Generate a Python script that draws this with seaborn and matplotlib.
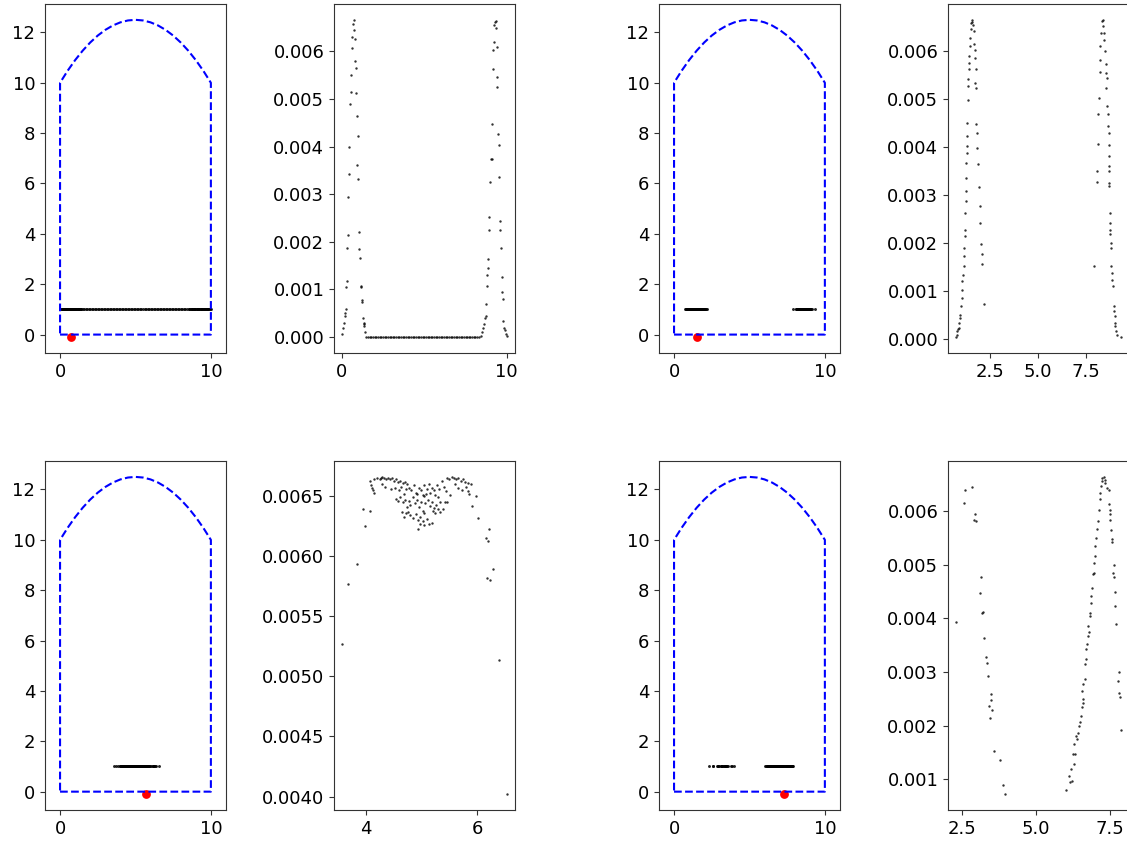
import numpy as np
import pandas as pd
import matplotlib
matplotlib.use('Agg')
import matplotlib.pyplot as plt
import seaborn as sns

# room outline (floor, walls, arched roof)
wall_x = [0, 10, 10, 9.5, 9, 8.5, 8, 7.5, 7, 6.5, 6, 5.5, 5, 4.5, 4, 3.5, 3, 2.5, 2, 1.5, 1, 0.5, 0, 0]
wall_y = [0, 0, 10, 10.475, 10.9, 11.275, 11.6, 11.875, 12.1, 12.275, 12.4, 12.475, 12.5,
          12.475, 12.4, 12.275, 12.1, 11.875, 11.6, 11.275, 10.9, 10.475, 10, 0]

robot_x = [0.71, 1.51, 5.70, 7.32]
robot_y = -0.1
particle_y = 1.0

# step 1: uniform particles, two peaks of weight
p1_x = [0.04, 0.10, 0.16, 0.20, 0.21, 0.24, 0.26, 0.30, 0.32, 0.39, 0.37, 0.45, 0.46, 0.51, 0.57,
        0.55, 0.63, 0.65, 0.67, 0.73, 0.75, 0.79, 0.80, 0.85, 0.86, 0.91, 0.97, 0.95, 1.01, 1.03,
        1.07, 1.10, 1.16, 1.18, 1.22, 1.26, 1.28, 1.34, 1.38, 1.36, 1.42,
        1.5, 1.6, 1.7, 1.8, 1.9, 2.0, 2.1, 2.2, 2.3, 2.4, 2.5, 2.6, 2.7, 2.8, 2.9, 3.0, 3.1, 3.2,
        3.3, 3.4, 3.5, 3.6, 3.7, 3.8, 3.9, 4.0, 4.1, 4.2, 4.3, 4.4, 4.5, 4.6, 4.7, 4.8, 4.9, 5.0,
        5.1, 5.2, 5.3, 5.4, 5.5, 5.6, 5.7, 5.8, 5.9, 6.0, 6.1, 6.2, 6.3, 6.4, 6.5, 6.6, 6.7, 6.8,
        6.9, 7.0, 7.1, 7.2, 7.3, 7.4, 7.5, 7.6, 7.7, 7.8, 7.9, 8.0, 8.1, 8.2, 8.3,
        8.42, 8.52, 8.58, 8.62, 8.68, 8.72, 8.73, 8.78, 8.79, 8.86, 8.87, 8.93, 8.94, 8.97, 9.05,
        9.09, 9.10, 9.15, 9.16, 9.21, 9.23, 9.29, 9.33, 9.34, 9.39, 9.41, 9.42, 9.49, 9.55, 9.53,
        9.59, 9.60, 9.65, 9.71, 9.72, 9.78, 9.76, 9.84, 9.90, 9.94, 10.0]
p1_w = ([0.00007, 0.0002, 0.0003, 0.00045, 0.0005, 0.0006, 0.00105, 0.00117, 0.00188, 0.00214,
         0.00294, 0.00343, 0.00399, 0.0049, 0.00514, 0.00551, 0.00607, 0.0063, 0.00657, 0.00666,
         0.00644, 0.00625, 0.0058, 0.00564, 0.00512, 0.00464, 0.00422, 0.00361, 0.00331, 0.0022,
         0.00184, 0.00165, 0.00108, 0.00106, 0.00077, 0.00074, 0.0004, 0.0003, 0.00023, 0.00027,
         0.0001]
        + [0.0] * 69
        + [0.00002, 0.0001, 0.0002, 0.00027, 0.0004, 0.00044, 0.0007, 0.00107, 0.00131, 0.00145,
           0.00164, 0.00225, 0.00253, 0.00325, 0.00374, 0.00374, 0.00447, 0.00563, 0.00602, 0.0062,
           0.00655, 0.00662, 0.00664, 0.00648, 0.00609, 0.00545, 0.00525, 0.00426, 0.00403, 0.00337,
           0.00243, 0.00225, 0.00188, 0.00127, 0.00095, 0.00079, 0.00033, 0.0002, 0.00014, 0.00007,
           0.00002])

# step 2: two clusters
p2_x = [0.75, 0.77, 0.79, 0.84, 0.89, 0.90, 0.93, 0.96, 1.02, 1.03, 1.05, 1.07, 1.10, 1.14, 1.16,
        1.17, 1.19, 1.21, 1.23, 1.24, 1.25, 1.26, 1.28, 1.29, 1.30, 1.31, 1.33, 1.34, 1.37, 1.38,
        1.40, 1.42, 1.44, 1.45, 1.47, 1.50, 1.54, 1.58, 1.59, 1.63, 1.66, 1.68, 1.71, 1.72, 1.77,
        1.73, 1.78, 1.80, 1.84, 1.85, 1.89, 1.94, 1.98, 1.99, 2.06, 2.07, 2.10, 2.19,
        7.91, 8.08, 8.09, 8.12, 8.14, 8.17, 8.22, 8.23, 8.26, 8.29, 8.35, 8.38, 8.40, 8.43, 8.47,
        8.52, 8.56, 8.57, 8.61, 8.55, 8.62, 8.64, 8.66, 8.70, 8.71, 8.72, 8.73, 8.74, 8.71, 8.73,
        8.75, 8.77, 8.78, 8.79, 8.80, 8.82, 8.83, 8.85, 8.89, 8.92, 8.96, 8.99, 9.01, 9.02, 9.04,
        9.08, 9.13, 9.33]
p2_w = [0.00003, 0.00008, 0.00015, 0.00019, 0.00022, 0.00033, 0.00043, 0.0005, 0.00067, 0.00085,
        0.00102, 0.00119, 0.00133, 0.00151, 0.00172, 0.00189, 0.00213, 0.00227, 0.00262, 0.00286,
        0.00307, 0.00335, 0.00366, 0.00387, 0.00401, 0.00422, 0.00449, 0.00498, 0.00526, 0.0054,
        0.00561, 0.00575, 0.00588, 0.00609, 0.00626, 0.00644, 0.00658, 0.00664, 0.0066, 0.00654,
        0.00641, 0.00613, 0.00602, 0.00585, 0.00561, 0.00533, 0.00523, 0.00447, 0.00429, 0.00398,
        0.00363, 0.00315, 0.00276, 0.00241, 0.00197, 0.00176, 0.00155, 0.00071,
        0.00151, 0.00326, 0.00349, 0.00406, 0.00467, 0.00501, 0.00581, 0.00555, 0.00609, 0.00637,
        0.00661, 0.00663, 0.00651, 0.00637, 0.00623, 0.00599, 0.00571, 0.00553, 0.00543, 0.00522,
        0.00484, 0.00467, 0.00442, 0.00428, 0.00404, 0.0038, 0.00359, 0.00349, 0.00324, 0.00317,
        0.00262, 0.00241, 0.00227, 0.00217, 0.00199, 0.00189, 0.00151, 0.00137, 0.00123, 0.00109,
        0.00067, 0.00057, 0.00047, 0.00033, 0.00026, 0.00015, 0.00008, 0.00003]

# step 3: one cluster around the robot
p3_x = [3.58, 3.69, 3.85, 3.96, 3.99, 4.07, 4.10, 4.13,
        4.07, 4.14, 4.21, 4.25, 4.27, 4.29, 4.32, 4.36, 4.40, 4.43, 4.47, 4.50, 4.54, 4.58, 4.62,
        4.66, 4.70, 4.74, 5.36, 5.45, 5.50, 5.55, 5.58, 5.62, 5.66, 5.70, 5.74, 5.78, 5.83, 5.88,
        4.12, 4.15, 4.30, 4.35, 4.45, 4.52, 4.60, 4.64, 4.68, 4.72, 4.78, 4.82, 4.86, 4.90, 4.95,
        5.00, 5.05, 5.10, 5.14, 5.18, 5.22, 5.27, 5.32, 5.40, 5.44, 5.52, 5.60, 5.65, 5.72, 5.80,
        5.86, 5.84,
        4.55, 4.58, 4.62, 4.66, 4.70, 4.74, 4.77, 4.80, 4.84, 4.88, 4.92, 4.96, 5.00, 5.04, 5.07,
        5.11, 5.15, 5.19, 5.23, 5.26, 5.30, 5.34, 5.38, 5.42, 5.46, 4.92, 5.02, 5.08, 5.16, 5.25,
        4.65, 4.68, 4.72, 4.76, 4.80, 4.85, 4.90, 4.94, 4.98, 5.02, 5.05, 5.10, 5.14, 5.20, 5.24,
        5.29, 5.33, 4.94, 5.05, 5.18, 4.97, 5.03,
        5.90, 5.98, 6.02, 6.16, 6.19, 6.21, 6.17, 6.22, 6.29, 6.39, 6.53]
p3_w = [0.005272, 0.005767, 0.005937, 0.00639, 0.006255, 0.006374, 0.00659, 0.00655,
        0.006625, 0.00664, 0.00665, 0.00664, 0.00665, 0.00666, 0.00665, 0.00664, 0.00665, 0.00664,
        0.00665, 0.00663, 0.00664, 0.00662, 0.00663, 0.00661, 0.00662, 0.0066, 0.00663, 0.00665,
        0.00664, 0.00666, 0.00665, 0.00664, 0.00665, 0.00663, 0.00664, 0.00662, 0.00661, 0.0066,
        0.00657, 0.00653, 0.0066, 0.00658, 0.00656, 0.00657, 0.00655, 0.00658, 0.00652, 0.00656,
        0.00657, 0.00655, 0.00659, 0.00653, 0.00657, 0.00655, 0.00659, 0.00656, 0.0066, 0.00657,
        0.00655, 0.00659, 0.00656, 0.00658, 0.00654, 0.00651, 0.0066, 0.00657, 0.00655, 0.00658,
        0.00652, 0.00654,
        0.00648, 0.00646, 0.00649, 0.00645, 0.00647, 0.00641, 0.00646, 0.00643, 0.00649, 0.00644,
        0.00647, 0.00641, 0.00645, 0.0065, 0.00644, 0.00647, 0.00642, 0.00645, 0.0064, 0.00643,
        0.00649, 0.00645, 0.00639, 0.00645, 0.00645, 0.00652, 0.00651, 0.00652, 0.00653, 0.00651,
        0.00637, 0.00633, 0.00636, 0.00637, 0.00634, 0.00632, 0.00635, 0.0063, 0.00633, 0.00629,
        0.00636, 0.00631, 0.00627, 0.00638, 0.00636, 0.00639, 0.00637, 0.00623, 0.00626, 0.00628,
        0.00627, 0.00638,
        0.00642, 0.0065, 0.00632, 0.00615, 0.00613, 0.00623, 0.00582, 0.0058, 0.00589, 0.005135,
        0.00402]

# step 4: main cluster plus a ghost cluster
p4_x = [2.29, 2.55, 2.58, 2.83, 2.92, 2.89, 2.96, 3.13, 3.09, 3.21, 3.18, 3.23, 3.30, 3.35, 3.36,
        3.47, 3.46, 3.41, 3.49, 3.42, 3.58, 3.78, 3.87, 3.95,
        6.03, 6.11, 6.17, 6.22, 6.19, 6.28, 6.26, 6.34, 6.30, 6.37, 6.42, 6.39, 6.45, 6.51, 6.53,
        6.57, 6.58, 6.60, 6.56, 6.61, 6.65, 6.68, 6.71, 6.69, 6.74, 6.77, 6.81, 6.76, 6.83, 6.85,
        6.87, 6.88, 6.91, 6.92, 6.96, 6.97, 6.99, 7.02, 7.04, 7.08, 7.10, 7.14, 7.16, 7.19, 7.20,
        7.23, 7.25, 7.30, 7.33, 7.36, 7.42, 7.47,
        7.47, 7.50, 7.51, 7.52, 7.56, 7.59, 7.57, 7.65, 7.63, 7.66, 7.68, 7.69, 7.71, 7.82, 7.79,
        7.83, 7.84, 7.88]
p4_w = [0.003938, 0.006155, 0.006391, 0.006447, 0.005957, 0.005845, 0.005814, 0.00477, 0.004478,
        0.004124, 0.004093, 0.003634, 0.00328, 0.003174, 0.002925, 0.002596, 0.002472, 0.002366,
        0.002286, 0.002137, 0.001528, 0.001354, 0.000888, 0.00072,
        0.000795, 0.001062, 0.00095, 0.00097, 0.00119, 0.00128, 0.00147, 0.00147, 0.00165, 0.00181,
        0.00187, 0.00175, 0.002, 0.00206, 0.00218, 0.00234, 0.00249, 0.00243, 0.00265, 0.00277,
        0.00286, 0.00314, 0.00324, 0.00342, 0.00352, 0.00367, 0.00375, 0.00386, 0.00404, 0.0041,
        0.00429, 0.00442, 0.00457, 0.00482, 0.00485, 0.00504, 0.00516, 0.00535, 0.0055, 0.00566,
        0.00581, 0.00603, 0.00622, 0.00634, 0.00647, 0.00656, 0.00662, 0.00664, 0.00659, 0.00653,
        0.00643, 0.0064,
        0.00614, 0.00603, 0.00594, 0.00584, 0.00565, 0.00548, 0.00542, 0.00499, 0.00485, 0.00477,
        0.0045, 0.00423, 0.00389, 0.003, 0.00284, 0.00261, 0.00254, 0.00191]

steps = [(p1_x, p1_w), (p2_x, p2_w), (p3_x, p3_w), (p4_x, p4_w)]

sns.set_style("ticks")
plt.rcParams['font.family'] = ['DejaVu Sans']
plt.rcParams['font.size'] = 13
plt.rcParams['axes.edgecolor'] = '#333333'
plt.rcParams['xtick.color'] = '#333333'
plt.rcParams['ytick.color'] = '#333333'
plt.rcParams['xtick.labelcolor'] = 'black'
plt.rcParams['ytick.labelcolor'] = 'black'

fig = plt.figure(figsize=(11.27, 8.43), dpi=100)

lefts = [0.0399, 0.2964, 0.5847, 0.8412]
bottoms = [0.5813, 0.0391]
w_ax, h_ax = 0.1606, 0.414

x_ticks = [[0, 10], [2.5, 5.0, 7.5], [4, 6], [2.5, 5.0, 7.5]]
w_ticks = [[0.000, 0.001, 0.002, 0.003, 0.004, 0.005, 0.006],
           [0.000, 0.001, 0.002, 0.003, 0.004, 0.005, 0.006],
           [0.0040, 0.0045, 0.0050, 0.0055, 0.0060, 0.0065],
           [0.001, 0.002, 0.003, 0.004, 0.005, 0.006]]
w_fmt = ['%.3f', '%.3f', '%.4f', '%.3f']

for i, (px, pw) in enumerate(steps):
    row = i // 2
    col = (i % 2) * 2
    ax_map = fig.add_axes([lefts[col], bottoms[row], w_ax, h_ax])
    ax_w = fig.add_axes([lefts[col + 1], bottoms[row], w_ax, h_ax])

    # map: room outline, particles, robot
    sns.lineplot(x=wall_x, y=wall_y, sort=False, estimator=None, ax=ax_map,
                 color='blue', linestyle='--', linewidth=1.5)
    sns.scatterplot(x=px, y=[particle_y] * len(px), ax=ax_map, color='black',
                    s=4.5, linewidth=0, alpha=0.85)
    sns.scatterplot(x=[robot_x[i]], y=[robot_y], ax=ax_map, color='red', s=40, linewidth=0)
    ax_map.set_xlim(-1, 11)
    ax_map.set_xticks([0, 10])
    ax_map.set_yticks([0, 2, 4, 6, 8, 10, 12])

    # particle weights
    sns.scatterplot(x=px, y=pw, ax=ax_w, color='black', s=3, linewidth=0, alpha=0.8)
    ax_w.set_xticks(x_ticks[i])
    ax_w.set_yticks(w_ticks[i])
    ax_w.yaxis.set_major_formatter(matplotlib.ticker.FormatStrFormatter(w_fmt[i]))
    if i == 1 or i == 3:
        ax_w.xaxis.set_major_formatter(matplotlib.ticker.FormatStrFormatter('%.1f'))

    for ax in (ax_map, ax_w):
        ax.set_xlabel('')
        ax.set_ylabel('')
        ax.tick_params(labelsize=13)

fig.savefig('out.png', dpi=100)
